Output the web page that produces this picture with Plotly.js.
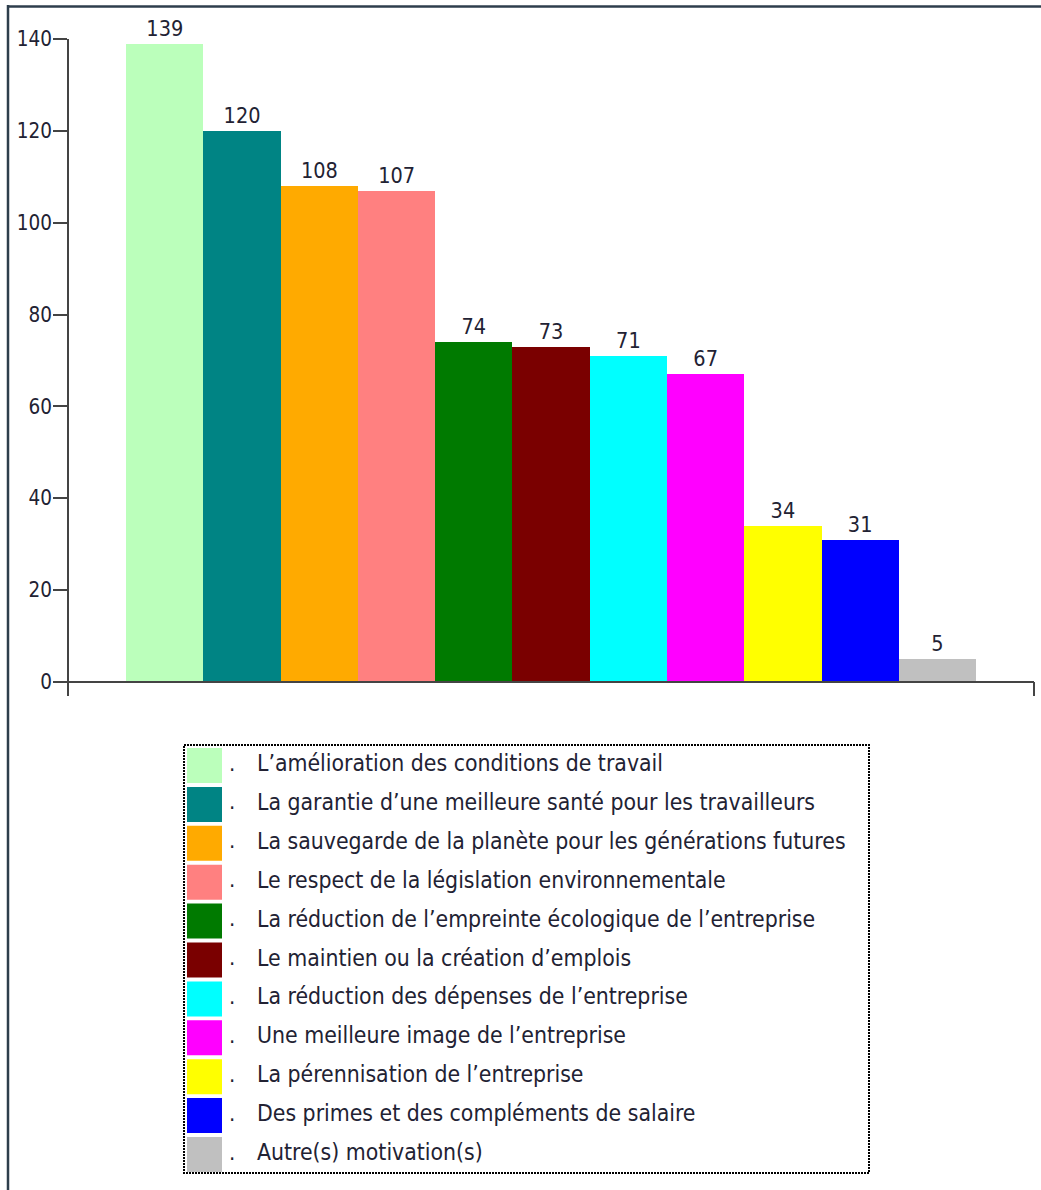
<!DOCTYPE html>
<html>
<head>
<meta charset="utf-8">
<script src="https://cdn.plot.ly/plotly-3.0.1.min.js"></script>
<style>html,body{margin:0;padding:0;background:#fff;}#chart{width:1041px;height:1190px;}</style>
</head>
<body>
<div id="chart"></div>
<script>
const categories = [
  "L’amélioration des conditions de travail",
  "La garantie d’une meilleure santé pour les travailleurs",
  "La sauvegarde de la planète pour les générations futures",
  "Le respect de la législation environnementale",
  "La réduction de l’empreinte écologique de l’entreprise",
  "Le maintien ou la création d’emplois",
  "La réduction des dépenses de l’entreprise",
  "Une meilleure image de l’entreprise",
  "La pérennisation de l’entreprise",
  "Des primes et des compléments de salaire",
  "Autre(s) motivation(s)"
];
const values = [139, 120, 108, 107, 74, 73, 71, 67, 34, 31, 5];
const colors = ["#bbffbb", "#008484", "#ffaa00", "#ff8080", "#007a00", "#7a0000", "#00ffff", "#ff00ff", "#ffff00", "#0000ff", "#c0c0c0"];
const yTicks = [0, 20, 40, 60, 80, 100, 120, 140];

const FONT = "DejaVu Sans Condensed, DejaVu Sans, sans-serif";
const TXT = "#222233";

// plot area in pixels
const L = 69, R = 1034, T = 39, B = 696;
const fx = px => (px - L) / (R - L);
const fy = py => (B - py) / (B - T);

const shapes = [];
const annotations = [];

// x axis line at y=0 and right end tick
shapes.push({type: "line", xref: "paper", yref: "y", x0: 0, x1: 1, y0: 0, y1: 0, line: {color: "#444", width: 2}});
shapes.push({type: "line", xref: "paper", yref: "paper", x0: 1, x1: 1, y0: fy(682), y1: 0, line: {color: "#444", width: 2}});

// outer frame (top and left)
shapes.push({type: "line", xref: "paper", yref: "paper", x0: fx(7), x1: fx(1045), y0: fy(6.5), y1: fy(6.5), line: {color: "#2e3e4c", width: 2.5}});
shapes.push({type: "line", xref: "paper", yref: "paper", x0: fx(8), x1: fx(8), y0: fy(5), y1: fy(1195), line: {color: "#2e3e4c", width: 2.5}});

// legend box
shapes.push({type: "rect", xref: "paper", yref: "paper", x0: fx(184), x1: fx(869), y0: fy(745), y1: fy(1173), line: {color: "#000", width: 2, dash: "2px,1px"}, fillcolor: "rgba(0,0,0,0)"});

const pitch = 38.9;
categories.forEach((c, i) => {
  const top = 748 + i * pitch;
  shapes.push({type: "rect", xref: "paper", yref: "paper", x0: fx(187), x1: fx(222), y0: fy(top), y1: fy(top + 35), line: {width: 0}, fillcolor: colors[i]});
  const cy = top + 15;
  annotations.push({xref: "paper", yref: "paper", x: fx(232), y: fy(cy), text: ".", showarrow: false, xanchor: "center", yanchor: "middle", font: {family: FONT, size: 22, color: TXT}});
  annotations.push({xref: "paper", yref: "paper", x: fx(255), y: fy(cy), text: c, showarrow: false, xanchor: "left", yanchor: "middle", font: {family: FONT, size: 22.8, color: TXT}});
});

const trace = {
  type: "bar",
  x: categories,
  y: values,
  marker: {color: colors, line: {width: 0}},
  text: values.map(String),
  textposition: "outside",
  textfont: {family: FONT, size: 21.5, color: TXT},
  outsidetextfont: {family: FONT, size: 21.5, color: TXT},
  constraintext: "none",
  cliponaxis: false,
  hoverinfo: "none",
  showlegend: false
};

const layout = {
  width: 1041,
  height: 1190,
  margin: {l: L, r: 1041 - R, t: T, b: 1190 - B, pad: 0},
  paper_bgcolor: "#ffffff",
  plot_bgcolor: "#ffffff",
  bargap: 0,
  showlegend: false,
  font: {family: FONT, size: 20, color: TXT},
  xaxis: {
    type: "category",
    range: [-1.24, 11.25],
    showticklabels: false,
    ticks: "",
    showgrid: false,
    zeroline: false,
    showline: false,
    fixedrange: true
  },
  yaxis: {
    range: [-3.05, 140],
    tickvals: yTicks,
    ticktext: yTicks.map(String),
    ticks: "outside",
    ticklen: 14,
    tickwidth: 2,
    tickcolor: "#444",
    showline: true,
    linecolor: "#444",
    linewidth: 2,
    showgrid: false,
    zeroline: false,
    ticklabelstandoff: -3,
    tickfont: {family: FONT, size: 20.5, color: TXT},
    fixedrange: true
  },
  shapes: shapes,
  annotations: annotations
};

Plotly.newPlot("chart", [trace], layout, {displayModeBar: false, staticPlot: true});
</script>
</body>
</html>
